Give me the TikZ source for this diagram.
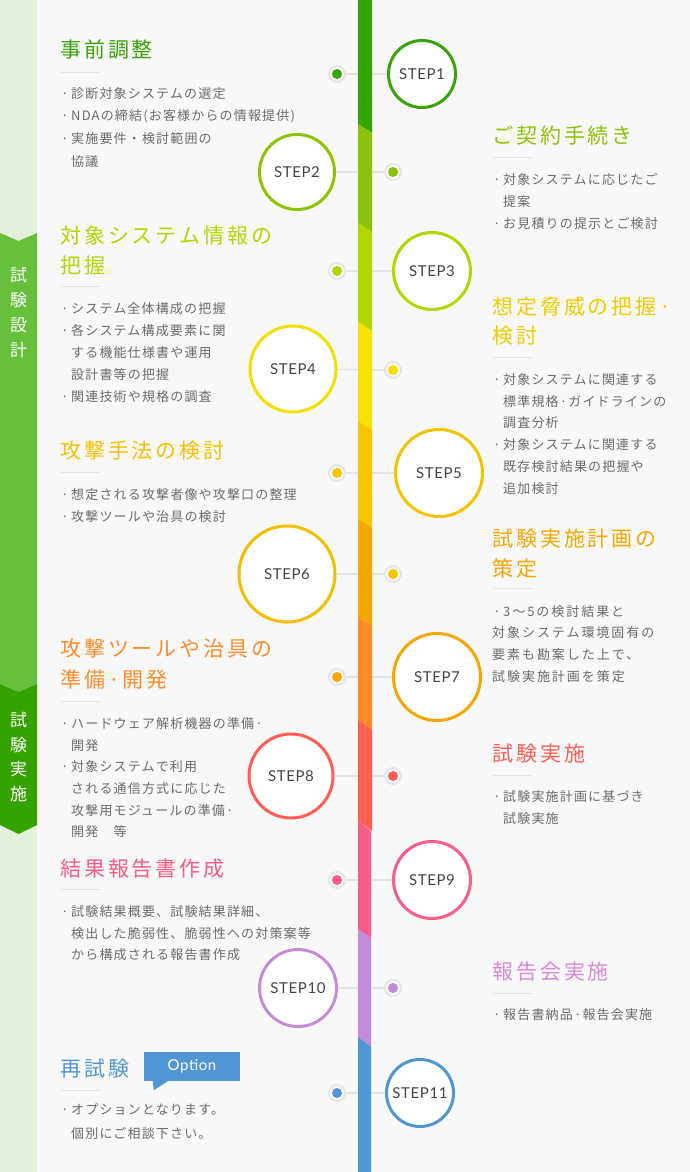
\documentclass[tikz,border=0pt]{standalone}
\usepackage{fontspec}
\usetikzlibrary{backgrounds}
\newfontfamily\jpt[LetterSpace=14]{Noto Sans CJK JP}
\newfontfamily\jpb[LetterSpace=9]{Noto Sans CJK JP}
\newfontfamily\jpw[LetterSpace=15]{Noto Sans CJK JP}
\newfontfamily\jpv{Noto Sans CJK JP}
\newfontfamily\lat[LetterSpace=4]{Lato}
\definecolor{bgc}{HTML}{F8F8F8}
\definecolor{bandpale}{HTML}{E3F1DA}
\definecolor{bandA}{HTML}{67C03C}
\definecolor{bandB}{HTML}{34A300}
\definecolor{linec}{HTML}{E3E3E3}
\definecolor{ringc}{HTML}{E6E6E6}
\definecolor{txtc}{HTML}{6B6B6B}
\definecolor{txtstep}{HTML}{444444}
\definecolor{c1}{HTML}{3AA30A}
\definecolor{c2}{HTML}{8CC405}
\definecolor{c3}{HTML}{B2D600}
\definecolor{c4}{HTML}{F3E000}
\definecolor{c5}{HTML}{F5C400}
\definecolor{c6}{HTML}{F3BE00}
\definecolor{c7}{HTML}{F5A700}
\definecolor{c8}{HTML}{FF5E54}
\definecolor{c9}{HTML}{FA5C85}
\definecolor{c10}{HTML}{C48BD9}
\definecolor{c11}{HTML}{5196D4}
\definecolor{s1}{HTML}{34A500}
\definecolor{s2}{HTML}{8DC306}
\definecolor{s3}{HTML}{B1D700}
\definecolor{s4}{HTML}{F5E200}
\definecolor{s5}{HTML}{F5C500}
\definecolor{s6}{HTML}{F5A800}
\definecolor{s7}{HTML}{FF8C28}
\definecolor{s8}{HTML}{FF5E52}
\definecolor{s9}{HTML}{F95C86}
\definecolor{s10}{HTML}{C48BD9}
\definecolor{s11}{HTML}{5196D4}
\definecolor{t4}{HTML}{EFCB00}
\definecolor{t5}{HTML}{F5C000}
\definecolor{t7}{HTML}{FF8C2A}
\definecolor{t9}{HTML}{F85A82}
\definecolor{t10}{HTML}{D88AD6}
\newcommand\bul{\makebox[11pt][l]{\hspace{1pt}·}}
\newcommand\ind{\hspace*{11pt}}
\pgfdeclarelayer{bg}
\pgfdeclarelayer{lines}
\pgfdeclarelayer{bar}
\pgfsetlayers{bg,lines,bar,main}
\begin{document}
\begin{tikzpicture}[x=1pt,y=-1pt,
  stepc/.style={circle,draw=#1,fill=white,line width=3pt,inner sep=0pt,font=\lat\fontsize{15}{15}\selectfont,text=txtstep},
  dotn/.style={circle,draw=ringc,line width=2pt,fill=bgc,minimum size=16pt,inner sep=0pt,
    path picture={\fill[#1] (path picture bounding box.center) circle (5pt);}},
  conn/.style={draw=linec,line width=1.5pt},
  ttl/.style={anchor=base west,inner sep=0pt,align=left,text=#1,font=\jpt\fontsize{21}{30}\selectfont},
  body/.style={anchor=base west,inner sep=0pt,align=left,text=txtc,font=\jpb\fontsize{13}{#1}\selectfont},
  body/.default=22,
  bodyw/.style={anchor=base west,inner sep=0pt,align=left,text=txtc,font=\jpw\fontsize{13}{#1}\selectfont},
  bodyw/.default=22,
  vtxt/.style={anchor=base,inner sep=0pt,align=center,text=white,font=\jpv\fontsize{17}{#1}\selectfont},
  rule/.style={draw=linec,line width=1pt}
]
\useasboundingbox (0,0) rectangle (690,1172);
\begin{pgfonlayer}{bg}
  \fill[bgc] (0,0) rectangle (690,1172);
  \fill[bandpale] (0,0) rectangle (37,1172);
  \fill[bandA] (0,233) -- (18.5,241) -- (37,233) -- (37,684) -- (18.5,692) -- (0,684) -- cycle;
  \fill[bandB] (0,684) -- (18.5,692) -- (37,684) -- (37,825) -- (18.5,834) -- (0,825) -- cycle;
  \foreach \yy in {72.7,286,472.7,701,889,1090.3} {\draw[rule] (61,\yy) -- (100,\yy);}
  \foreach \yy in {157,357.7,588.3,775,993.3} {\draw[rule] (493,\yy) -- (532,\yy);}
\end{pgfonlayer}
\begin{pgfonlayer}{bar}
  \fill[s1] (358,0) -- (372,0) -- (372,133) -- (358,124) -- cycle;
  \fill[s2] (358,124) -- (372,133) -- (372,232) -- (358,223) -- cycle;
  \fill[s3] (358,223) -- (372,232) -- (372,331) -- (358,322) -- cycle;
  \fill[s4] (358,322) -- (372,331) -- (372,430) -- (358,421) -- cycle;
  \fill[s5] (358,421) -- (372,430) -- (372,528) -- (358,519) -- cycle;
  \fill[s6] (358,519) -- (372,528) -- (372,626) -- (358,617) -- cycle;
  \fill[s7] (358,617) -- (372,626) -- (372,730) -- (358,720) -- cycle;
  \fill[s8] (358,720) -- (372,730) -- (372,831) -- (358,821) -- cycle;
  \fill[s9] (358,821) -- (371,831) -- (371,938) -- (358,929) -- cycle;
  \fill[s10] (358,929) -- (371,938) -- (371,1047) -- (358,1037) -- cycle;
  \fill[s11] (358,1037) -- (371,1047) -- (371,1172) -- (358,1172) -- cycle;
\end{pgfonlayer}
% step circles
\node[stepc=c1,minimum size=67pt] (st1) at (422,74) {STEP1};
\node[stepc=c2,minimum size=75pt] (st2) at (297,172) {STEP2};
\node[stepc=c3,minimum size=77pt] (st3) at (432,271) {STEP3};
\node[stepc=c4,minimum size=86pt] (st4) at (293,369) {STEP4};
\node[stepc=c5,minimum size=87pt] (st5) at (439,473) {STEP5};
\node[stepc=c6,minimum size=96pt] (st6) at (287,574) {STEP6};
\node[stepc=c7,minimum size=87pt] (st7) at (437,677) {STEP7};
\node[stepc=c8,minimum size=84pt] (st8) at (291,776) {STEP8};
\node[stepc=c9,minimum size=77pt] (st9) at (432,880) {STEP9};
\node[stepc=c10,minimum size=77pt] (st10) at (298,988) {STEP10};
\node[stepc=c11,minimum size=67pt] (st11) at (420,1093) {STEP11};
% dots
\node[dotn=c1] (d1) at (337,74) {};
\node[dotn=c2] (d2) at (393,172) {};
\node[dotn=c3] (d3) at (337,271) {};
\node[dotn=c4] (d4) at (393,370) {};
\node[dotn=c5] (d5) at (337,473) {};
\node[dotn=c5] (d6) at (393,574) {};
\node[dotn=c7] (d7) at (337,677) {};
\node[dotn=c8] (d8) at (393,776) {};
\node[dotn=c9] (d9) at (337,880) {};
\node[dotn=c10] (d10) at (393,988) {};
\node[dotn=c11] (d11) at (337,1093) {};
\begin{pgfonlayer}{lines}
  \draw[conn] (d1) -- (st1);
  \draw[conn] (st2) -- (d2);
  \draw[conn] (d3) -- (st3);
  \draw[conn] (st4) -- (d4);
  \draw[conn] (d5) -- (st5);
  \draw[conn] (st6) -- (d6);
  \draw[conn] (d7) -- (st7);
  \draw[conn] (st8) -- (d8);
  \draw[conn] (d9) -- (st9);
  \draw[conn] (st10) -- (d10);
  \draw[conn] (d11) -- (st11);
\end{pgfonlayer}
% band labels (base anchor = last line baseline)
\node[vtxt=25] (v1) at (18.5,356.5) {試\\験\\設\\計};
\node[vtxt=24.5] (v2) at (18.5,800) {試\\験\\実\\施};
% left column
\node[ttl=c1] (tl1) at (60,58) {事前調整};
\node[body=22.7] (bl1) at (60,166.1) {\bul 診断対象システムの選定\\\bul NDAの締結(お客様からの情報提供)\\\bul 実施要件・検討範囲の\\\ind 協議};
\node[ttl=c3] (tl2) at (60,273) {対象システム情報の\\把握};
\node[body=22] (bl2) at (60,401.3) {\bul システム全体構成の把握\\\bul 各システム構成要素に関\\\ind する機能仕様書や運用\\\ind 設計書等の把握\\\bul 関連技術や規格の調査};
\node[ttl=t5] (tl3) at (60,458) {攻撃手法の検討};
\node[body=22] (bl3) at (60,521) {\bul 想定される攻撃者像や攻撃口の整理\\\bul 攻撃ツールや治具の検討};
\node[ttl=t7,font=\jpt\fontsize{21}{31}\selectfont] (tl4) at (60,687.3) {攻撃ツールや治具の\\準備·開発};
\node[body=21.7] (bl4) at (60,836.8) {\bul ハードウェア解析機器の準備·\\\ind 開発\\\bul 対象システムで利用\\\ind される通信方式に応じた\\\ind 攻撃用モジュールの準備·\\\ind 開発　等};
\node[ttl=t9] (tl5) at (60,876.3) {結果報告書作成};
\node[body=21.3] (bl5) at (60,959.3) {\bul 試験結果概要、試験結果詳細、\\\ind 検出した脆弱性、脆弱性への対策案等\\\ind から構成される報告書作成};
\node[ttl=c11] (tl6) at (60,1076.3) {再試験};
\node[body=24] (bl6) at (60,1138) {\bul オプションとなります。\\\ind 個別にご相談下さい。};
\node[fill=c11,minimum width=96pt,minimum height=29pt,inner sep=0pt,text=white,font=\lat\fontsize{15}{15}\selectfont] (opt) at (192,1066.5) {Option};
\fill[c11] ([xshift=9pt]opt.south west) -- ([xshift=10pt,yshift=-9pt]opt.south west) -- ([xshift=24pt]opt.south west) -- cycle;
% right column
\node[ttl=c2] (tr1) at (492,143) {ご契約手続き};
\node[body=22] (br1) at (492,228) {\bul 対象システムに応じたご\\\ind 提案\\\bul お見積りの提示とご検討};
\node[ttl=t4,font=\jpt\fontsize{21}{28.3}\selectfont] (tr2) at (492,343) {想定脅威の把握·\\検討};
\node[body=21.8] (br2) at (492,493.3) {\bul 対象システムに関連する\\\ind 標準規格·ガイドラインの\\\ind 調査分析\\\bul 対象システムに関連する\\\ind 既存検討結果の把握や\\\ind 追加検討};
\node[ttl=c7] (tr3) at (492,576.3) {試験実施計画の\\策定};
\node[bodyw=21.9] (br3) at (492,681.7) {\bul 3〜5の検討結果と\\対象システム環境固有の\\要素も勘案した上で、\\試験実施計画を策定};
\node[ttl=c8] (tr4) at (492,761.3) {試験実施};
\node[body=21.6] (br4) at (492,823.3) {\bul 試験実施計画に基づき\\\ind 試験実施};
\node[ttl=t10] (tr5) at (492,979.7) {報告会実施};
\node[body=22] (br5) at (492,1019) {\bul 報告書納品·報告会実施};
\end{tikzpicture}
\end{document}
